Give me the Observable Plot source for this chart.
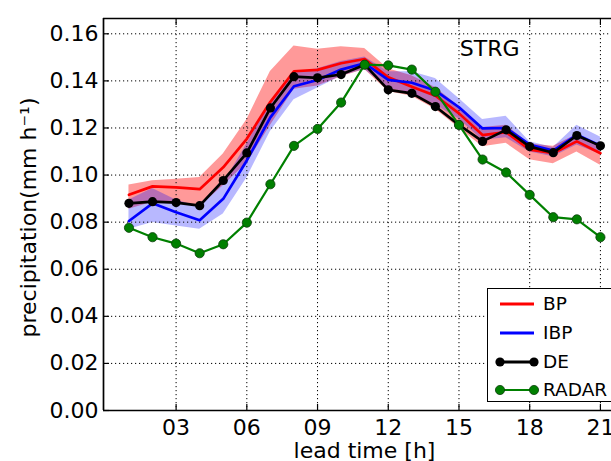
<!DOCTYPE html>
<html><head><meta charset="utf-8">
<script src="https://cdn.jsdelivr.net/npm/d3@7"></script>
<script src="https://cdn.jsdelivr.net/npm/@observablehq/plot@0.6"></script>
<style>
html,body{margin:0;padding:0;overflow:hidden;background:#fff;}
#wrap{position:relative;width:611px;height:461px;overflow:hidden;}
#legend{position:absolute;left:487px;top:288px;width:150px;height:114px;border:1px solid #000;background:#fff;box-sizing:border-box;font-family:"DejaVu Sans";font-size:18.5px;color:#000;}
.row{position:absolute;left:0;height:24px;width:150px;}
.row svg{position:absolute;left:0;top:0;}
.row span{position:absolute;left:55px;top:1px;line-height:22px;}
</style></head>
<body><div id="wrap"></div>
<script>
// ---- data ----
const hours = [1,2,3,4,5,6,7,8,9,10,11,12,13,14,15,16,17,18,19,20,21];
const bp    = [0.0916,0.0952,0.0948,0.0940,0.1033,0.1154,0.1311,0.1441,0.1447,0.1475,0.1493,0.1415,0.1375,0.1337,0.1262,0.1170,0.1182,0.1108,0.1093,0.1143,0.1093];
const bpLo  = [0.0855,0.0885,0.0880,0.0865,0.0955,0.1050,0.1210,0.1365,0.1378,0.1418,0.1448,0.1355,0.1335,0.1280,0.1200,0.1120,0.1135,0.1065,0.1048,0.1098,0.1042];
const bpHi  = [0.0958,0.0976,0.0982,0.0990,0.1090,0.1235,0.1440,0.1548,0.1534,0.1545,0.1538,0.1452,0.1422,0.1372,0.1292,0.1202,0.1212,0.1132,0.1122,0.1172,0.1122];
const ibp   = [0.0805,0.0880,0.0842,0.0808,0.0899,0.1062,0.1245,0.1377,0.1404,0.1448,0.1475,0.1404,0.1392,0.1359,0.1288,0.1198,0.1200,0.1129,0.1104,0.1171,0.1125];
const ibpLo = [0.0770,0.0798,0.0784,0.0770,0.0835,0.0988,0.1185,0.1320,0.1370,0.1420,0.1448,0.1368,0.1348,0.1298,0.1238,0.1148,0.1158,0.1098,0.1078,0.1128,0.1088];
const ibpHi = [0.0894,0.0943,0.0894,0.0865,0.0962,0.1132,0.1312,0.1432,0.1452,0.1482,0.1502,0.1439,0.1439,0.1410,0.1325,0.1236,0.1250,0.1141,0.1117,0.1212,0.1162];
const de    = [0.0880,0.0887,0.0883,0.0870,0.0977,0.1094,0.1285,0.1418,0.1413,0.1427,0.1469,0.1362,0.1347,0.1291,0.1213,0.1143,0.1192,0.1121,0.1095,0.1168,0.1124];
const radar = [0.0776,0.0736,0.0709,0.0668,0.0706,0.0798,0.0961,0.1124,0.1196,0.1308,0.1469,0.1466,0.1448,0.1354,0.1213,0.1066,0.1011,0.0916,0.0821,0.0812,0.0736];
const xTicks = [3,6,9,12,15,18,21];
const yTicks = [0,0.02,0.04,0.06,0.08,0.10,0.12,0.14,0.16];
const xDomain = [-0.08, 21.47];
const yDomain = [0, 0.1665];
const seriesNames = ["BP","IBP","DE","RADAR"];
const seriesColors = ["#ff0000","#0000ff","#000000","#008000"];
const stationLabel = "STRG";
const stationPos = {x: 16.3, y: 0.1534};
const xLabel = "lead time [h]";
const yLabel = "precipitation(mm h\u207B\u00B9)";

// ---- tables ----
const tbl = (v, lo, hi) => hours.map((h, i) => ({h, v: v[i], lo: lo ? lo[i] : null, hi: hi ? hi[i] : null}));
const bpT = tbl(bp, bpLo, bpHi);
const ibpT = tbl(ibp, ibpLo, ibpHi);
const deT = tbl(de);
const radarT = tbl(radar);

const grid = {stroke: "#000", strokeWidth: 1, strokeDasharray: "1.2,2.8"};
const font = "DejaVu Sans";

const chart = Plot.plot({
  width: 611, height: 461,
  marginLeft: 103, marginRight: 0, marginTop: 18, marginBottom: 51,
  style: {fontFamily: font, fontSize: "22px", background: "#fff", color: "#000"},
  x: {domain: xDomain, axis: null},
  y: {domain: yDomain, axis: null},
  marks: [
    Plot.areaY(bpT, {x: "h", y1: "lo", y2: "hi", fill: seriesColors[0], fillOpacity: 0.4}),
    Plot.areaY(ibpT, {x: "h", y1: "lo", y2: "hi", fill: seriesColors[1], fillOpacity: 0.28}),
    Plot.ruleX(xTicks, grid),
    Plot.ruleY(yTicks, grid),
    Plot.line(bpT, {x: "h", y: "v", stroke: seriesColors[0], strokeWidth: 2.7}),
    Plot.line(ibpT, {x: "h", y: "v", stroke: seriesColors[1], strokeWidth: 2.7}),
    Plot.line(deT, {x: "h", y: "v", stroke: seriesColors[2], strokeWidth: 2.7}),
    Plot.dot(deT, {x: "h", y: "v", r: 4.6, fill: seriesColors[2], stroke: "none"}),
    Plot.line(radarT, {x: "h", y: "v", stroke: seriesColors[3], strokeWidth: 2.2}),
    Plot.dot(radarT, {x: "h", y: "v", r: 4.6, fill: seriesColors[3], stroke: "#0a3d0a", strokeWidth: 0.8}),
    // frame (left, bottom, top)
    Plot.ruleX([xDomain[0]], {stroke: "#000", strokeWidth: 1.7}),
    Plot.ruleY([yDomain[0], yDomain[1]], {stroke: "#000", strokeWidth: 1.7}),
    // inward ticks
    Plot.axisX(xTicks, {anchor: "bottom", tickSize: -6, tickFormat: () => "", label: null, strokeWidth: 1.2}),
    Plot.axisX(xTicks, {anchor: "top", tickSize: -6, tickFormat: () => "", label: null, strokeWidth: 1.2}),
    Plot.axisY(yTicks, {anchor: "left", tickSize: -6, tickFormat: () => "", label: null, strokeWidth: 1.2}),
    // tick labels
    Plot.axisX(xTicks, {anchor: "bottom", tickSize: 0, tickPadding: 8.5, tickFormat: d => String(d).padStart(2, "0"), label: null, fontSize: 22}),
    Plot.axisY(yTicks, {anchor: "left", tickSize: 0, tickPadding: 5, tickFormat: d3.format(".2f"), label: null, fontSize: 22}),
    // annotation + axis titles
    Plot.text([stationLabel], {x: stationPos.x, y: stationPos.y, fontSize: 22, fill: "#000"}),
    Plot.text([xLabel], {frameAnchor: "bottom", dx: 7, dy: 47, lineAnchor: "bottom", textAnchor: "middle", fontSize: 22, fill: "#000"}),
    Plot.text([yLabel], {frameAnchor: "left", rotate: -90, dx: -75, dy: 3, textAnchor: "middle", fontSize: 22, fill: "#000"})
  ]
});
const wrap = document.getElementById("wrap");
wrap.appendChild(chart);

// ---- legend (inside the axes, lower right) ----
const legend = document.createElement("div");
legend.id = "legend";
const rowTops = [3, 32, 61, 89];
seriesNames.forEach((name, i) => {
  const row = document.createElement("div");
  row.className = "row";
  row.style.top = rowTops[i] + "px";
  const c = seriesColors[i];
  const withDots = i >= 2;
  let svg = `<svg width="52" height="24"><line x1="12" y1="12" x2="46" y2="12" stroke="${c}" stroke-width="${i === 3 ? 2.2 : 2.8}"/>`;
  if (withDots) {
    const sc = i === 3 ? "#0a3d0a" : "none";
    svg += `<circle cx="12" cy="12" r="4.6" fill="${c}" stroke="${sc}" stroke-width="0.8"/><circle cx="46" cy="12" r="4.6" fill="${c}" stroke="${sc}" stroke-width="0.8"/>`;
  }
  svg += `</svg>`;
  row.innerHTML = svg + `<span>${name}</span>`;
  legend.appendChild(row);
});
wrap.appendChild(legend);
</script>
</body></html>
